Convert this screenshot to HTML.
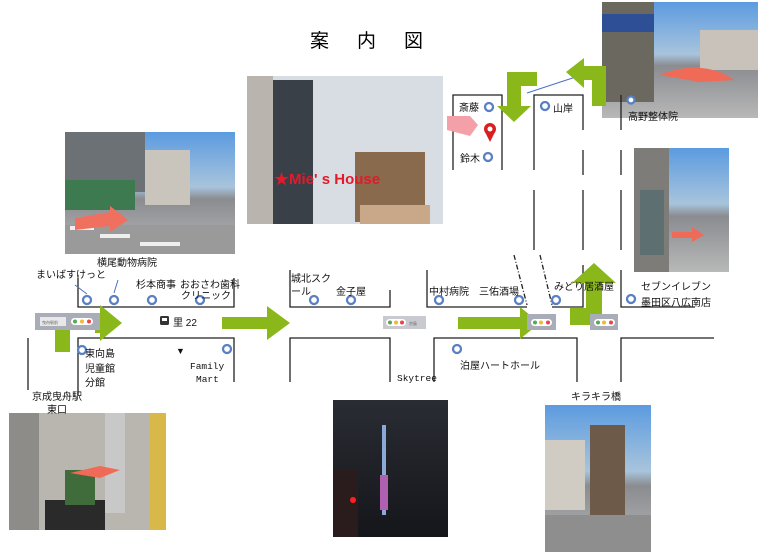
<!DOCTYPE html>
<html><head><meta charset="utf-8"><style>
body{margin:0;background:#fff;}
svg{display:block;font-family:"Liberation Sans","Noto Sans CJK JP",sans-serif;}
</style></head><body>
<svg width="768" height="557" viewBox="0 0 768 557" xmlns="http://www.w3.org/2000/svg">
<defs>
<linearGradient id="sky" x1="0" y1="0" x2="0" y2="1"><stop offset="0" stop-color="#5b9be0"/><stop offset="0.45" stop-color="#a8c4dc"/><stop offset="0.55" stop-color="#8a8c90"/><stop offset="1" stop-color="#b8b8b8"/></linearGradient>
<linearGradient id="night" x1="0" y1="0" x2="0" y2="1"><stop offset="0" stop-color="#2a2c34"/><stop offset="1" stop-color="#15161a"/></linearGradient>
</defs>
<rect width="768" height="557" fill="#fff"/>
<text x="310" y="47" font-size="19" letter-spacing="28">案内図</text>

<!-- photo1 -->
<rect x="65" y="132" width="170" height="122" fill="url(#sky)"/>
<rect x="65" y="132" width="80" height="60" fill="#6c7176"/>
<rect x="65" y="180" width="70" height="30" fill="#3e7a50"/>
<rect x="145" y="150" width="45" height="55" fill="#c9c4bc"/>
<rect x="65" y="225" width="170" height="29" fill="#9a9a9a"/>
<path d="M70 228h24M100 236h30M140 244h40" stroke="#eee" stroke-width="4"/>
<path d="M75 218 L110 212 L110 206 L128 220 L110 232 L110 226 L75 230Z" fill="#f07060"/>
<!-- photo2 -->
<rect x="247" y="76" width="196" height="148" fill="#d8dde3"/>
<rect x="247" y="76" width="26" height="148" fill="#b9b5ae"/>
<rect x="273" y="80" width="40" height="144" fill="#3a4048"/>
<rect x="355" y="152" width="70" height="70" fill="#8a6a4c"/>
<rect x="360" y="205" width="70" height="19" fill="#c8a888"/>
<text x="274" y="184" font-size="15" font-weight="bold" fill="#e21a2a">★Mie' s House</text>
<!-- photo3 -->
<rect x="602" y="2" width="156" height="116" fill="url(#sky)"/>
<rect x="602" y="2" width="52" height="100" fill="#6b6860"/>
<rect x="602" y="14" width="52" height="18" fill="#2e4e96"/>
<rect x="700" y="30" width="58" height="40" fill="#c8c2ba"/>
<path d="M660 75 Q690 62 720 72 L735 80 L700 82Z" fill="#f06a58"/>
<!-- photo4 -->
<rect x="634" y="148" width="95" height="124" fill="url(#sky)"/>
<rect x="634" y="148" width="35" height="124" fill="#7d7c78"/>
<rect x="640" y="190" width="24" height="65" fill="#5d6f70"/>
<path d="M672 232 h20 v-5 l12 8 -12 7 v-4 h-20z" fill="#f06a58"/>
<!-- photo5 -->
<rect x="9" y="413" width="157" height="117" fill="#b9b6b0"/>
<rect x="9" y="413" width="30" height="117" fill="#8e8c88"/>
<rect x="105" y="413" width="20" height="100" fill="#c8c8c8"/>
<rect x="150" y="413" width="16" height="117" fill="#d8b848"/>
<rect x="45" y="500" width="60" height="30" fill="#2a2a2a"/>
<rect x="65" y="470" width="30" height="35" fill="#3f6c3a"/>
<path d="M70 473 L100 466 L120 470 L100 478Z" fill="#f06a58"/>
<!-- photo6 -->
<rect x="333" y="400" width="115" height="137" fill="url(#night)"/>
<rect x="382" y="425" width="4" height="90" fill="#8aa8d8"/>
<rect x="380" y="475" width="8" height="35" fill="#b060b0"/>
<rect x="333" y="470" width="25" height="67" fill="#2a1c1c"/>
<circle cx="353" cy="500" r="3" fill="#ff2020"/>
<!-- photo7 -->
<rect x="545" y="405" width="106" height="147" fill="url(#sky)"/>
<rect x="545" y="440" width="40" height="70" fill="#d0ccc4"/>
<rect x="590" y="425" width="35" height="90" fill="#6e5a48"/>
<rect x="545" y="515" width="106" height="37" fill="#8e8e8e"/>

<!-- road lines -->
<g stroke="#222" stroke-width="1.3" fill="none">
<path d="M78 278V307H234V278"/>
<path d="M290 270V307H390V290"/>
<path d="M427 270V307H527"/>
<path d="M552 307H583V265"/>
<path d="M621 270V307H695"/>
<path d="M28 338V390"/>
<path d="M78 395V338H234V382"/>
<path d="M290 382V338H390V382"/>
<path d="M434 382V338H577V382"/>
<path d="M621 382V338H714"/>
<path d="M453 170V95H502V170"/>
<path d="M534 170V95H583V130M583 150V175M583 190V250"/>
<path d="M534 190V250"/>
<path d="M621 95V130M621 150V175M621 190V250"/>
<path d="M514 255L527 305M540 255L552 305" stroke-dasharray="5 2 1 2"/>
</g>
<line x1="527" y1="93" x2="603" y2="68" stroke="#4a70c8" stroke-width="1"/>

<!-- green arrows -->
<g fill="#8ab81a">
<path d="M55 330h15v22h-15z"/>
<path d="M95 313h5v-8l22 18-22 18v-8h-5z"/>
<path d="M222 317h45v-11l23 17-23 17v-11h-45z"/>
<path d="M458 317h62v-10l20 16-20 16v-10h-62z"/>
<path d="M570 308h16v-25h-14l22-20 22 20h-14v42h-32z"/>
<path d="M507 72h30v14h-16v20h10l-17 16-17-16h10z"/>
<path d="M566 72l18-14v8h22v40h-14v-26h-8v8z"/>
</g>
<path d="M447 116 L470 116 L478 125 L470 136 L447 130Z" fill="#f3a0a8"/>
<circle cx="490" cy="129" r="6" fill="#d82020"/><circle cx="490" cy="129" r="2.5" fill="#fff"/>
<path d="M485 132l5 10 5-10z" fill="#d82020"/>

<!-- traffic boxes -->
<g>
<rect x="35" y="313" width="65" height="17" fill="#a9adb8"/>
<rect x="40" y="317" width="26" height="9" fill="#e8e8ea"/>
<rect x="383" y="316" width="43" height="13" fill="#c8cad0"/>
<rect x="527" y="314" width="29" height="16" fill="#a9adb8"/>
<rect x="590" y="314" width="28" height="16" fill="#a9adb8"/>
</g>
<g font-size="4" fill="#666"><text x="42" y="324">曳舟駅前</text><text x="409" y="325">京島</text></g>
<g>
<rect x="71" y="318" width="22" height="7" rx="3.5" fill="#fff"/><circle cx="75" cy="321.5" r="2" fill="#5a5"/><circle cx="82" cy="321.5" r="2" fill="#eb3"/><circle cx="89" cy="321.5" r="2" fill="#e44"/>
<rect x="386" y="319" width="20" height="7" rx="3.5" fill="#fff"/><circle cx="390" cy="322.5" r="2" fill="#5a5"/><circle cx="396" cy="322.5" r="2" fill="#eb3"/><circle cx="402" cy="322.5" r="2" fill="#e44"/>
<rect x="531" y="319" width="21" height="7" rx="3.5" fill="#fff"/><circle cx="535" cy="322.5" r="2" fill="#5a5"/><circle cx="541" cy="322.5" r="2" fill="#eb3"/><circle cx="548" cy="322.5" r="2" fill="#e44"/>
<rect x="594" y="319" width="21" height="7" rx="3.5" fill="#fff"/><circle cx="598" cy="322.5" r="2" fill="#5a5"/><circle cx="604" cy="322.5" r="2" fill="#eb3"/><circle cx="611" cy="322.5" r="2" fill="#e44"/>
</g>

<!-- markers -->
<g fill="#fff" stroke="#5a80c4" stroke-width="2.3">
<circle cx="87" cy="300" r="4"/><circle cx="114" cy="300" r="4"/><circle cx="152" cy="300" r="4"/><circle cx="200" cy="300" r="4"/>
<circle cx="314" cy="300" r="4"/><circle cx="351" cy="300" r="4"/>
<circle cx="439" cy="300" r="4"/><circle cx="519" cy="300" r="4"/><circle cx="556" cy="300" r="4"/><circle cx="631" cy="299" r="4"/>
<circle cx="82" cy="350" r="4"/><circle cx="227" cy="349" r="4"/><circle cx="457" cy="349" r="4"/>
<circle cx="489" cy="107" r="4"/><circle cx="488" cy="157" r="4"/><circle cx="545" cy="106" r="4"/><circle cx="631" cy="100" r="3.5"/>
</g>
<path d="M75 285L87 294M118 280L114 293" stroke="#4a70c8" stroke-width="1"/>

<!-- labels -->
<g font-size="10" fill="#111">
<text x="36" y="278">まいばすけっと</text>
<text x="97" y="266">横尾動物病院</text>
<text x="136" y="288">杉本商事</text>
<text x="180" y="288">おおさわ歯科</text>
<text x="181" y="299">クリニック</text>
<text x="291" y="282">城北スク</text>
<text x="291" y="295">ール</text>
<text x="336" y="295">金子屋</text>
<text x="429" y="295">中村病院</text>
<text x="479" y="295">三佑酒場</text>
<text x="554" y="290">みどり居酒屋</text>
<text x="641" y="290">セブンイレブン</text>
<text x="641" y="306">墨田区八広南店</text>
<text x="173" y="326">里 22</text>
<text x="85" y="357">東向島</text>
<text x="85" y="372">児童館</text>
<text x="85" y="386">分館</text>
<text x="176" y="354" font-size="9">▼</text>
<text x="190" y="369" font-family="Liberation Mono,monospace" font-size="9.5">Family</text>
<text x="196" y="382" font-family="Liberation Mono,monospace" font-size="9.5">Mart</text>
<text x="397" y="381" font-family="Liberation Mono,monospace" font-size="9.5">Skytree</text>
<text x="460" y="369">泊屋ハートホール</text>
<text x="571" y="400">キラキラ橋</text>
<text x="32" y="400">京成曳舟駅</text>
<text x="47" y="413">東口</text>
<text x="459" y="111">斎藤</text>
<text x="460" y="162">鈴木</text>
<text x="553" y="112">山岸</text>
<text x="628" y="120">高野整体院</text>
</g>
<rect x="160" y="316" width="9" height="9" rx="1.5" fill="#333"/><rect x="162" y="318" width="5" height="3" fill="#fff"/>
</svg>
</body></html>
